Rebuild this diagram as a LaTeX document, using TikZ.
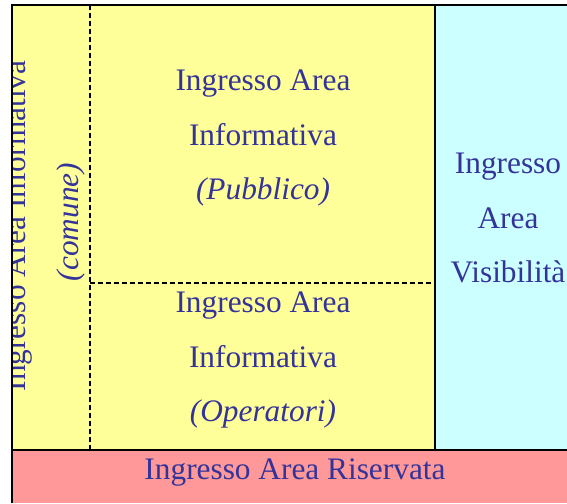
\documentclass[tikz,border=0pt]{standalone}
\usepackage{fontspec}
\setmainfont{Liberation Serif}
\usepackage{tikz}
\usetikzlibrary{positioning}
\definecolor{areagiallo}{RGB}{255,255,153}
\definecolor{areaciano}{RGB}{204,255,255}
\definecolor{arearosa}{RGB}{255,153,153}
\definecolor{testoblu}{RGB}{51,51,153}
\tikzset{
  areatxt/.style={ text=testoblu, align=center, font=\fontsize{23.5}{41}\selectfont }
}
\tikzset{
  bordo/.style={ draw=black, line width=1.5pt }
}
\tikzset{
  tratteggio/.style={ draw=black, line width=2pt, dash pattern=on 4pt off 2pt }
}

\begin{document}
\begin{tikzpicture}[x=0.75pt, y=-0.75pt]
      \useasboundingbox (0,0) rectangle (567,503);
      \fill[areagiallo] (12,5) rectangle (435,450);
      \fill[areaciano] (435,5) rectangle (567,450);
      \fill[arearosa] (12,450) rectangle (567,503);

      \node[areatxt] (pubblico) at (263,138) {Ingresso Area\\Informativa\\\textit{(Pubblico)}};
      \node[areatxt] (operatori) at (263,360) {Ingresso Area\\Informativa\\\textit{(Operatori)}};
      \node[areatxt] (visibilita) at (508,218) {Ingresso\\Area\\Visibilità};
      \node[areatxt] (riservata) at (295,473) {Ingresso Area Riservata};

      % testo comune, tagliato dal bordo sinistro
      \begin{scope}
        \clip (13,5) rectangle (90,450);
        \node[areatxt, rotate=90, anchor=base] (comune) at (25,226) {Ingresso Area Informativa};
        \node[areatxt, rotate=90, font=\fontsize{23.5}{41}\selectfont\itshape] (comunelbl) at (71,222) {(comune)};
      \end{scope}

      \draw[tratteggio] (90,5) -- (90,450);
      \draw[tratteggio] (90,283) -- (435,283);
      \draw[bordo] (435,5) -- (435,450);
      \draw[bordo] (12,450) -- (567,450);
      \draw[bordo] (12,503) -- (12,5) -- (567,5);
    \end{tikzpicture}
\end{document}
